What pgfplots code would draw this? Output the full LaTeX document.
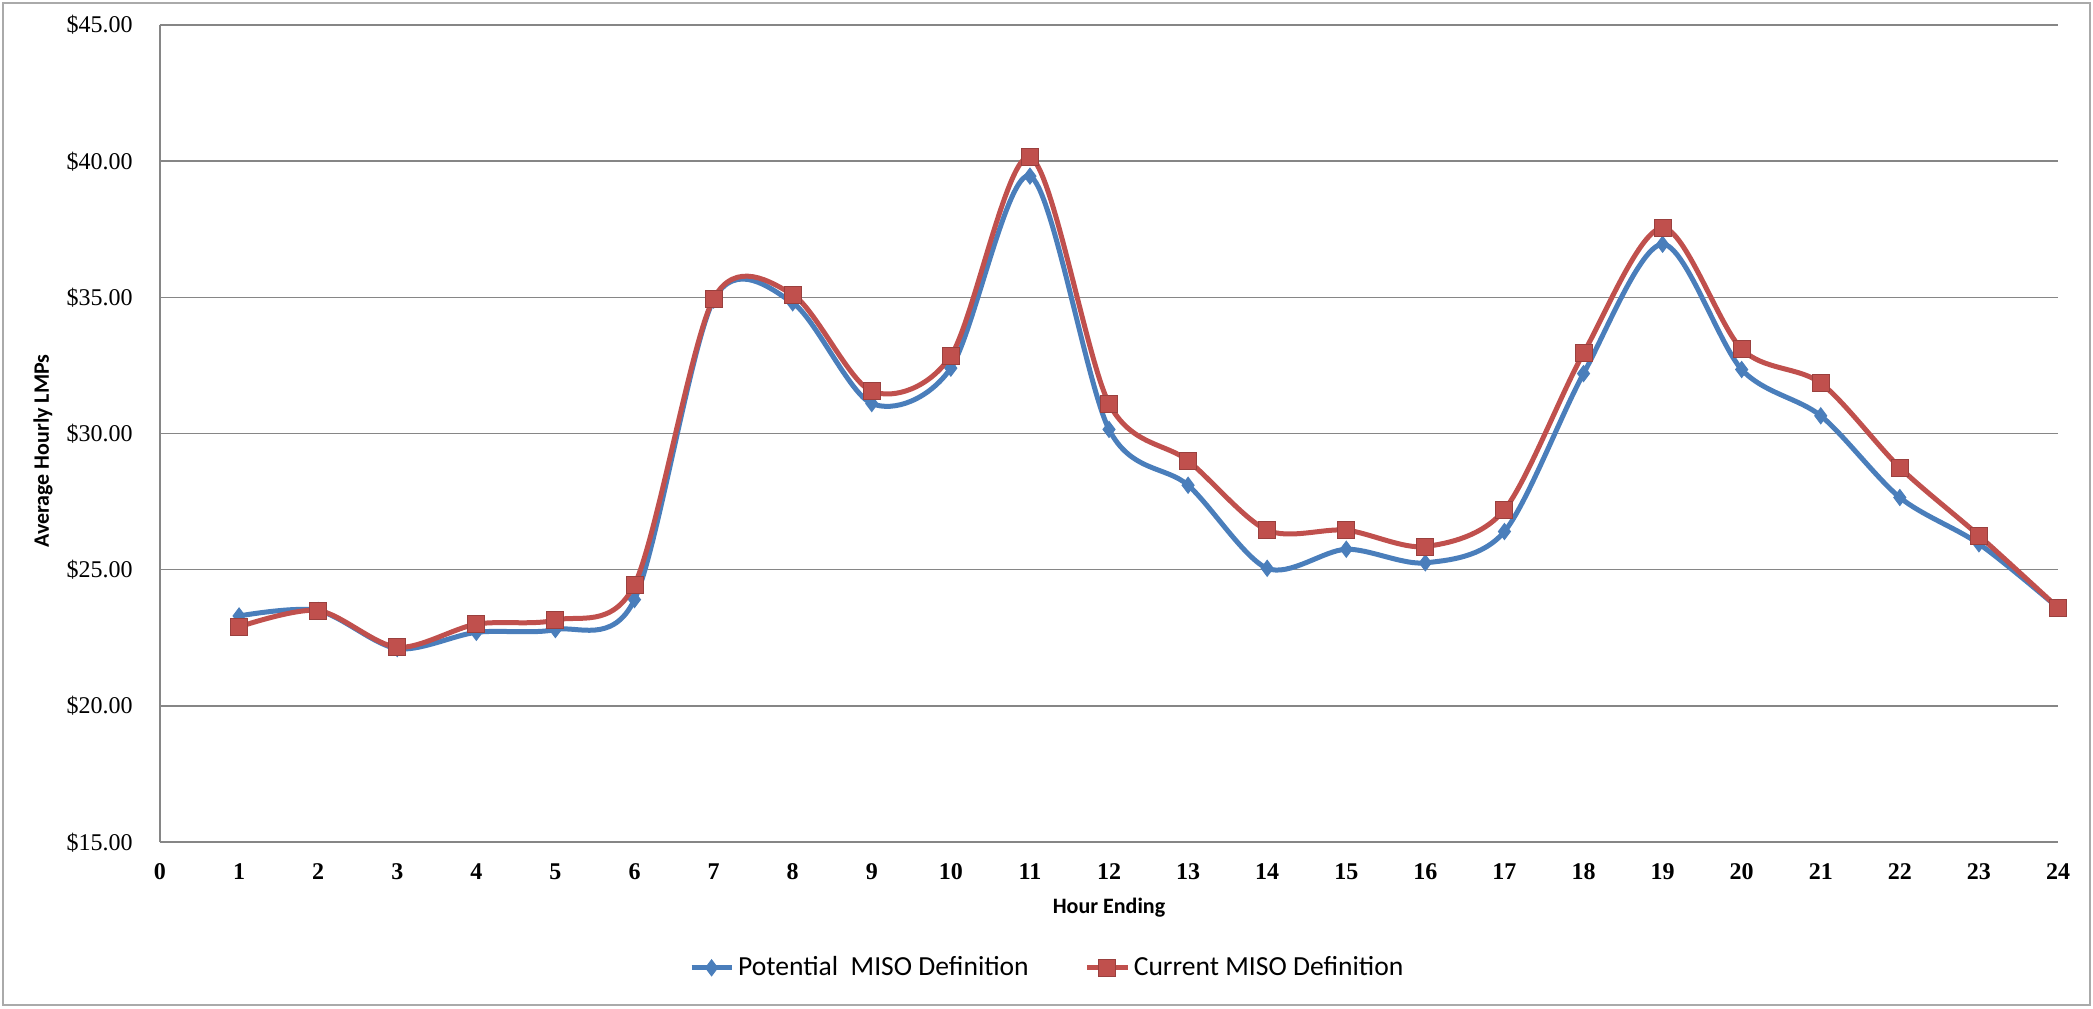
\documentclass[border=0pt]{standalone}
\usepackage{fontspec}
\setmainfont{Carlito}
\newfontfamily\serifnum{Liberation Serif}
\usepackage{pgfplots}
\pgfplotsset{compat=1.18}
\definecolor{mblue}{RGB}{74,126,187}
\definecolor{mred}{RGB}{192,80,77}
\definecolor{gridc}{RGB}{134,134,134}
\definecolor{framec}{RGB}{170,170,170}
\begin{document}
\begin{tikzpicture}
\useasboundingbox (0,0) rectangle (1046.5pt,504pt);
\draw[framec, line width=1pt] (1.5pt,1.5pt) rectangle (1045pt,502.5pt);
\begin{axis}[
  at={(80pt,83pt)}, anchor=south west,
  scale only axis, width=949pt, height=408.5pt,
  xmin=0, xmax=24, ymin=15, ymax=45,
  xtick={0,1,...,24}, ytick={15,20,...,45},
  yticklabels={\$15.00,\$20.00,\$25.00,\$30.00,\$35.00,\$40.00,\$45.00},
  axis x line=bottom, axis y line=left,
  axis line style={draw=gridc, line width=0.9pt, -},
  ymajorgrids, grid style={draw=gridc, line width=0.8pt},
  major tick length=0pt,
  /pgf/number format/assume math mode=true,
  xticklabel style={font=\serifnum\bfseries\fontsize{12}{12}\selectfont, anchor=center, yshift=-14.5pt, text height=8pt, text depth=0pt, inner sep=0pt},
  yticklabel style={font=\serifnum\fontsize{12}{12}\selectfont, anchor=east, xshift=-13.5pt, text height=8pt, text depth=0pt, inner sep=0pt},
  xlabel={Hour Ending}, ylabel={Average Hourly LMPs},
  label style={font=\bfseries\fontsize{11}{12}\selectfont},
  xlabel style={at={(axis description cs:0.5,-0.0808)}, anchor=center},
  ylabel style={at={(axis description cs:-0.0616,0.4786)}, anchor=center},
  legend style={at={(axis description cs:0.468,-0.154)}, anchor=center, draw=none, fill=none,
    legend columns=2, font=\fontsize{13.8}{15}\selectfont,
    /tikz/every even column/.append style={column sep=26pt}},
  legend image code/.code={\draw[mark repeat=2, mark phase=2, #1] plot coordinates {(0pt,0pt) (10pt,0pt) (20pt,0pt)};},
]
\addplot[mblue, line width=2.5pt, smooth, tension=0.5, mark=diamond*, mark size=4pt,
  mark options={solid, fill=mblue, draw=mblue, line width=0.5pt}] coordinates {
(1,23.3) (2,23.5) (3,22.1) (4,22.7) (5,22.8) (6,23.9) (7,34.9) (8,34.8)
(9,31.1) (10,32.4) (11,39.45) (12,30.15) (13,28.1) (14,25.05) (15,25.75) (16,25.25)
(17,26.4) (18,32.2) (19,36.95) (20,32.35) (21,30.65) (22,27.65) (23,25.95) (24,23.6)};
\addlegendentry{Potential\ \ MISO Definition}
\addplot[mred, line width=2.5pt, smooth, tension=0.5, mark=square*, mark size=4.25pt,
  mark options={solid, fill=mred, draw=mred!80!black, line width=0.5pt}] coordinates {
(1,22.9) (2,23.5) (3,22.15) (4,23.0) (5,23.15) (6,24.45) (7,34.95) (8,35.1)
(9,31.55) (10,32.85) (11,40.15) (12,31.1) (13,29.0) (14,26.45) (15,26.45) (16,25.85)
(17,27.2) (18,32.95) (19,37.55) (20,33.1) (21,31.85) (22,28.75) (23,26.25) (24,23.6)};
\addlegendentry{Current MISO Definition}
\end{axis}
\end{tikzpicture}
\end{document}
